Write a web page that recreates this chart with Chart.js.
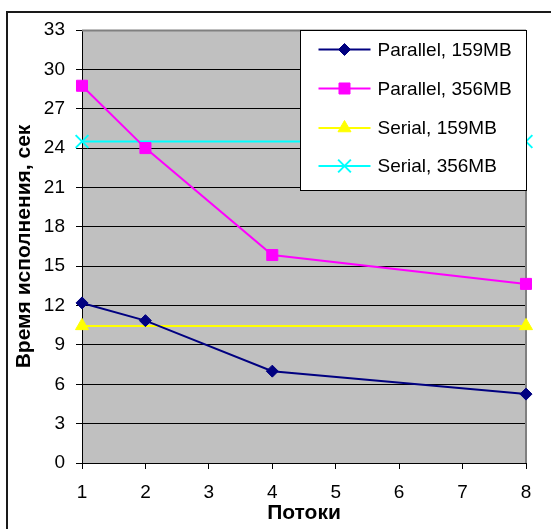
<!DOCTYPE html>
<html>
<head>
<meta charset="utf-8">
<script src="https://cdn.jsdelivr.net/npm/chart.js@4/dist/chart.umd.min.js"></script>
<style>
  html, body { margin: 0; padding: 0; background: #fff; }
  #wrap { width: 551px; height: 529px; position: relative; }
</style>
</head>
<body>
<div id="wrap"><canvas id="c" width="551" height="529"></canvas></div>
<script>
// ---- data ----
const threads = [1, 2, 4, 8];
const parallel159 = [12.2, 10.85, 7.0, 5.25];
const parallel356 = [28.75, 24.0, 15.85, 13.65];
const serialX = [1, 8];
const serial159 = [10.45, 10.45];
const serial356 = [24.5, 24.5];
const seriesNames = ['Parallel, 159MB', 'Parallel, 356MB', 'Serial, 159MB', 'Serial, 356MB'];
const yTitle = 'Время исполнения, сек';
const xTitle = 'Потоки';

const FONT = "'Liberation Sans', Arial, sans-serif";

function pts(xs, ys) { return xs.map((x, i) => ({ x: x, y: ys[i] })); }

const styles = [
  { color: '#000080', point: 'rectRot', radius: 6 },
  { color: '#FF00FF', point: 'rect', radius: 7.8 },
  { color: '#FFFF00', point: 'triangle', radius: 7.5 },
  { color: '#00FFFF', point: 'crossRot', radius: 9 }
];

const dataSets = [pts(threads, parallel159), pts(threads, parallel356), pts(serialX, serial159), pts(serialX, serial356)];

const datasets = dataSets.map((d, i) => ({
  label: seriesNames[i],
  data: d,
  borderColor: styles[i].color,
  backgroundColor: styles[i].color,
  borderWidth: 2,
  pointStyle: styles[i].point,
  pointRadius: styles[i].radius,
  pointHoverRadius: styles[i].radius,
  pointBorderWidth: styles[i].point === 'crossRot' ? 2 : 1,
  pointBorderColor: styles[i].color,
  pointBackgroundColor: styles[i].color,
  tension: 0,
  clip: false
}));

function drawMarker(ctx, style, x, y, r, color) {
  ctx.save();
  ctx.fillStyle = color; ctx.strokeStyle = color; ctx.lineWidth = style === 'crossRot' ? 2 : 1;
  ctx.beginPath();
  if (style === 'rectRot') {
    ctx.moveTo(x - r, y); ctx.lineTo(x, y - r); ctx.lineTo(x + r, y); ctx.lineTo(x, y + r); ctx.closePath();
    ctx.fill(); ctx.stroke();
  } else if (style === 'rect') {
    const s = Math.SQRT1_2 * r;
    ctx.rect(x - s, y - s, 2 * s, 2 * s); ctx.fill(); ctx.stroke();
  } else if (style === 'triangle') {
    let a = 0;
    ctx.moveTo(x + Math.sin(a) * r, y - Math.cos(a) * r);
    a += 2 * Math.PI / 3;
    ctx.lineTo(x + Math.sin(a) * r, y - Math.cos(a) * r);
    a += 2 * Math.PI / 3;
    ctx.lineTo(x + Math.sin(a) * r, y - Math.cos(a) * r);
    ctx.closePath(); ctx.fill(); ctx.stroke();
  } else if (style === 'crossRot') {
    const o = Math.SQRT1_2 * r;
    ctx.moveTo(x - o, y - o); ctx.lineTo(x + o, y + o);
    ctx.moveTo(x - o, y + o); ctx.lineTo(x + o, y - o);
    ctx.stroke();
  }
  ctx.restore();
}

const decor = {
  id: 'decor',
  beforeDraw(chart) {
    const ctx = chart.ctx, a = chart.chartArea;
    ctx.save();
    ctx.fillStyle = '#fff';
    ctx.fillRect(0, 0, chart.width, chart.height);
    // outer chart border (cut off at right/bottom)
    ctx.strokeStyle = '#1a1a1a';
    ctx.lineWidth = 2;
    ctx.strokeRect(7, 12, 700, 700);
    // plot background
    ctx.fillStyle = '#C0C0C0';
    ctx.fillRect(a.left, a.top, a.right - a.left, a.bottom - a.top);
    ctx.restore();
  },
  beforeDatasetsDraw(chart) {
    const ctx = chart.ctx, a = chart.chartArea;
    ctx.save();
    ctx.strokeStyle = '#808080';
    ctx.lineWidth = 2;
    ctx.beginPath();
    ctx.moveTo(a.left, a.top + 0.5); ctx.lineTo(a.right, a.top + 0.5);
    ctx.moveTo(a.right, a.top); ctx.lineTo(a.right, a.bottom);
    ctx.stroke();
    ctx.restore();
  },
  afterDraw(chart) {
    const ctx = chart.ctx, a = chart.chartArea;
    const bx = Math.round(a.right - 226) + 0.5, by = Math.round(a.top) + 0.5;
    const bw = 226, bh = 160;
    ctx.save();
    ctx.fillStyle = '#fff';
    ctx.fillRect(bx, by, bw, bh);
    ctx.strokeStyle = '#000';
    ctx.lineWidth = 1;
    ctx.strokeRect(bx, by, bw, bh);
    const rows = [19, 58, 97.5, 135.5];
    seriesNames.forEach((name, i) => {
      const y = by + rows[i];
      const st = styles[i];
      ctx.strokeStyle = st.color;
      ctx.lineWidth = 2;
      ctx.beginPath();
      ctx.moveTo(bx + 18, y); ctx.lineTo(bx + 70, y);
      ctx.stroke();
      drawMarker(ctx, st.point, bx + 44, y, st.radius, st.color);
      ctx.fillStyle = '#000';
      ctx.font = '19px ' + FONT;
      ctx.textBaseline = 'middle';
      ctx.textAlign = 'left';
      ctx.fillText(name, bx + 77, y + 1);
    });
    ctx.restore();
  }
};

new Chart(document.getElementById('c'), {
  type: 'line',
  data: { datasets: datasets },
  options: {
    responsive: false,
    animation: false,
    devicePixelRatio: 1,
    layout: { padding: { left: 9, top: 30, right: 25, bottom: 0 } },
    plugins: { legend: { display: false }, tooltip: { enabled: false } },
    scales: {
      x: {
        type: 'linear',
        min: 1, max: 8,
        afterFit(s) { s.height = 66; },
        ticks: { stepSize: 1, color: '#000', font: { family: FONT, size: 19 }, padding: 12 },
        grid: { drawOnChartArea: false, drawTicks: true, tickLength: 6, color: '#000', lineWidth: 1 },
        border: { display: true, color: '#000', width: 1 },
        title: { display: true, text: xTitle, color: '#000', font: { family: FONT, size: 21, weight: 'bold' }, padding: { top: 0, bottom: 3 } }
      },
      y: {
        type: 'linear',
        min: 0, max: 33,
        afterFit(s) { s.width = 73; },
        ticks: { stepSize: 3, color: '#000', font: { family: FONT, size: 19 }, padding: 11 },
        grid: { drawOnChartArea: true, drawTicks: true, tickLength: 6, color: '#000', lineWidth: 1 },
        border: { display: true, color: '#000', width: 1 },
        title: { display: true, text: yTitle, color: '#000', font: { family: FONT, size: 21, weight: 'bold' }, padding: { top: 3, bottom: 0 } }
      }
    }
  },
  plugins: [decor]
});
</script>
</body>
</html>
